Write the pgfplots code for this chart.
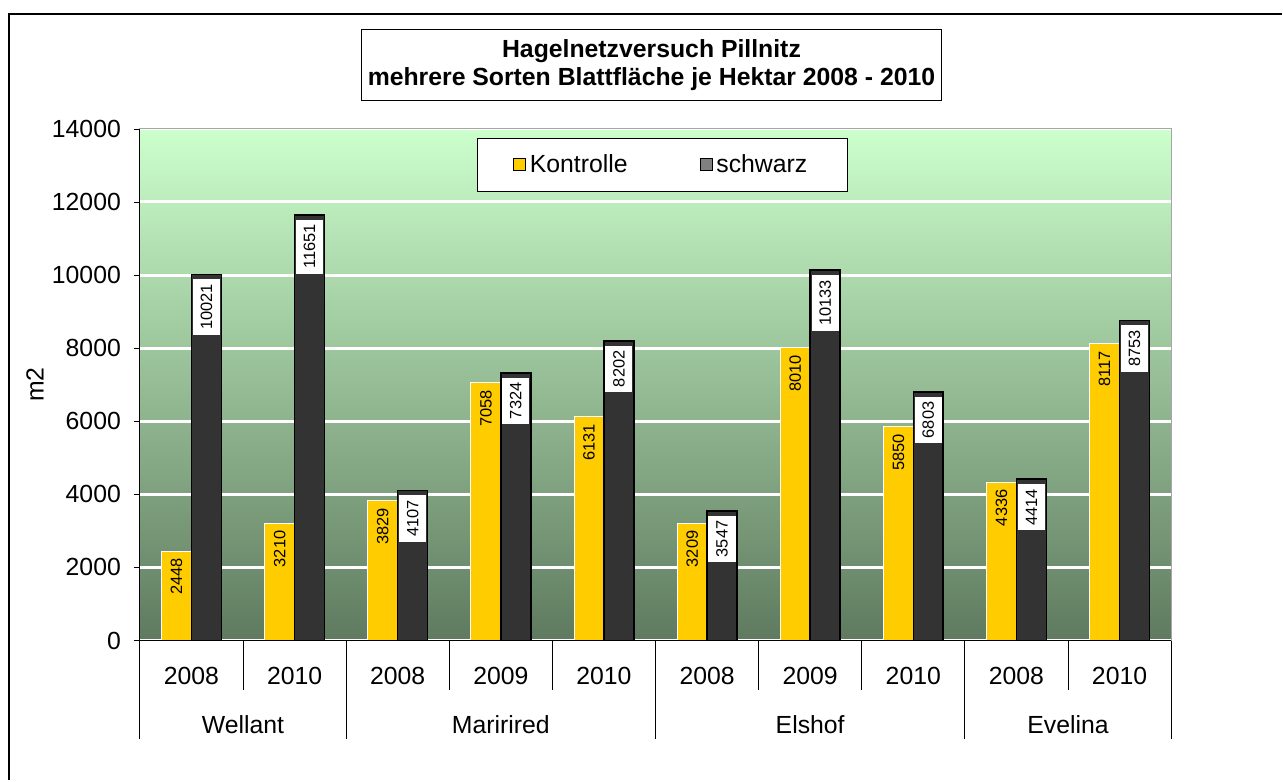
\documentclass[border=0pt]{standalone}
\usepackage{fontspec}
\setmainfont{Liberation Sans}
\setsansfont{Liberation Sans}
\usepackage{graphicx}
\usepackage{pgfplots}
\pgfplotsset{compat=1.18}
\definecolor{kontr}{HTML}{FFCC00}
\definecolor{schw}{HTML}{333333}
\definecolor{bgtop}{HTML}{CCFFCC}
\definecolor{bgbot}{HTML}{5F7A5F}
\newcommand\mainfs{\fontsize{12.4}{14}\selectfont}
\newcommand\barfs{\fontsize{8.2}{9}\selectfont}

\begin{document}
\begin{tikzpicture}[font=\mainfs]
% page = 1283 x 781 px, 1 px = 0.5pt, origin at plot's lower left (140,641)
\begin{scope}[x=0.5pt,y=-0.5pt,shift={(-140,-641)}]
  \path[use as bounding box] (0,0) rectangle (1283,781);
\end{scope}
\begin{axis}[
  at={(0,0)}, anchor=south west,
  scale only axis, width=516pt, height=256pt,
  xmin=-0.5, xmax=9.5, ymin=0, ymax=14000,
  ytick={0,2000,...,14000}, scaled y ticks=false,
  xtick={0,...,9},
  xticklabels={2008,2010,2008,2009,2010,2008,2009,2010,2008,2010},
  xticklabel style={anchor=center, yshift=-14.5pt},
  xtick style={draw=none},
  ytick style={black},
  tick align=outside, major tick length=3pt, tick pos=left,
  yticklabel style={xshift=-3pt},
  tick label style={font=\mainfs},
  /pgf/number format/1000 sep={},
  /pgf/number format/assume math mode=true,
  ymajorgrids, grid style={white, line width=1.5pt},
  axis line style={gray!70},
  axis background/.style={shade, top color=bgtop, bottom color=bgbot},
  ylabel={m2},
  every axis y label/.style={at={(axis description cs:-0.1017,0.5)}, rotate=90, anchor=center},
  clip=false,
  legend style={at={(0.3266,0.9824)}, anchor=north west, draw=black, fill=white,
    font=\mainfs, inner xsep=18pt, inner ysep=6pt,
    /tikz/every even column/.append style={column sep=34pt}},
  legend columns=2,
  legend image code/.code={\draw[#1] (-1.5pt,-3pt) rectangle (4.5pt,3pt);},
  nodes near coords={\rotatebox{90}{\pgfmathprintnumber{\pgfplotspointmeta}}},
]
\addplot[ybar, bar width=0.29, bar shift=-0.145, fill=kontr, draw=white, line width=0.5pt,
  forget plot,
  every node near coord/.append style={font=\barfs, text=black, xshift=-7.48pt, yshift=-2.5pt,
    anchor=north, inner sep=1pt}]
  coordinates {(0,2448)(1,3210)(2,3829)(3,7058)(4,6131)(5,3209)(6,8010)(7,5850)(8,4336)(9,8117)};
\addplot[ybar, bar width=0.29, bar shift=0.145, fill=schw, draw=black, line width=0.8pt,
  forget plot,
  every node near coord/.append style={font=\barfs, text=black, fill=white, xshift=7.48pt, yshift=-2pt,
    anchor=north, inner ysep=2.5pt, inner xsep=0pt, minimum width=13.6pt}]
  coordinates {(0,10021)(1,11651)(2,4107)(3,7324)(4,8202)(5,3547)(6,10133)(7,6803)(8,4414)(9,8753)};
\addlegendimage{fill=kontr, draw=none}
\addlegendentry{Kontrolle}
\addlegendimage{fill=gray, draw=black}
\addlegendentry{schwarz}
% category frame under the axis
\draw[black] (axis cs:-0.5,14000) -- (axis cs:-0.5,0) -- ([yshift=-49.5pt]axis cs:-0.5,0);
\draw[black] (axis cs:-0.5,0) -- (axis cs:9.5,0);
\pgfplotsinvokeforeach{0.5,2.5,3.5,5.5,6.5,8.5}{\draw[black] (axis cs:#1,0) -- ([yshift=-25pt]axis cs:#1,0);}
\pgfplotsinvokeforeach{1.5,4.5,7.5,9.5}{\draw[black] (axis cs:#1,0) -- ([yshift=-49.5pt]axis cs:#1,0);}
\node at (axis cs:0.5,0) [yshift=-42pt] {Wellant};
\node at (axis cs:3,0) [yshift=-42pt] {Maririred};
\node at (axis cs:6,0) [yshift=-42pt] {Elshof};
\node at (axis cs:8.5,0) [yshift=-42pt] {Evelina};
\end{axis}
\begin{scope}[x=0.5pt,y=-0.5pt,shift={(-140,-641)}]
  \draw[line width=1pt] (9,781) -- (9,14) -- (1283,14);
  \node[draw, fill=white, minimum width=290pt, minimum height=35.5pt, inner sep=0pt,
    align=center, font=\bfseries\mainfs] at (652,65)
    {Hagelnetzversuch Pillnitz\\mehrere Sorten Blattfläche je Hektar 2008 - 2010};
\end{scope}
\end{tikzpicture}
\end{document}
